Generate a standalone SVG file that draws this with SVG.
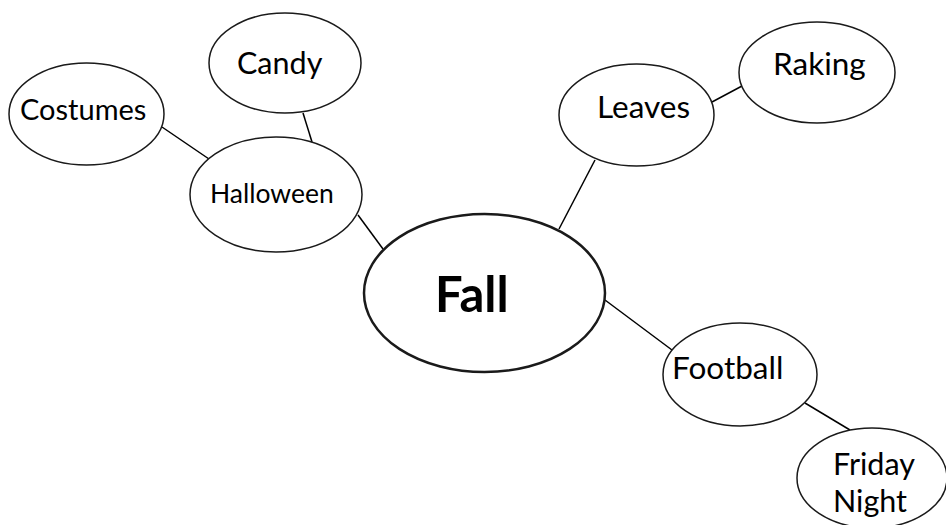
<svg xmlns="http://www.w3.org/2000/svg" width="946" height="525" viewBox="0 0 946 525">
<style>
.n{fill:#fff;stroke:#1a1a1a;stroke-width:1.5}
.t{font-family:Lato,"Liberation Sans",sans-serif;font-size:31px;fill:#000}
.c line{stroke:#000;stroke-width:1.5}
</style>
<rect width="946" height="525" fill="#fff"/>
<g class="c" id="connectors">
<line x1="162" y1="127" x2="209" y2="159"/>
<line x1="303" y1="113" x2="312" y2="142"/>
<line x1="358" y1="215" x2="383" y2="249"/>
<line x1="595" y1="160" x2="559" y2="229"/>
<line x1="712" y1="102" x2="742" y2="86"/>
<line x1="605" y1="300" x2="672" y2="350"/>
<line x1="805" y1="403" x2="850" y2="430"/>
</g>
<g id="fall"><ellipse class="n" cx="484.5" cy="293" rx="120.5" ry="79" style="stroke-width:2.5"/><text x="435" y="312" class="t" style="font-size:49px;font-weight:bold">Fall</text></g>
<g id="halloween"><ellipse class="n" cx="276" cy="194.5" rx="86" ry="57.5"/><text x="210" y="203" class="t" style="font-size:26.5px">Halloween</text></g>
<g id="costumes"><ellipse class="n" cx="86.5" cy="114" rx="77.5" ry="51"/><text x="20" y="120" class="t" style="font-size:29px">Costumes</text></g>
<g id="candy"><ellipse class="n" cx="285" cy="63" rx="76" ry="50"/><text x="237" y="74" class="t" style="font-size:30.5px">Candy</text></g>
<g id="leaves"><ellipse class="n" cx="636.5" cy="115" rx="77.5" ry="51"/><text x="597" y="118" class="t" style="font-size:31.5px">Leaves</text></g>
<g id="raking"><ellipse class="n" cx="817" cy="72.5" rx="78" ry="50.5"/><text x="773" y="75" class="t" style="font-size:31.5px">Raking</text></g>
<g id="football"><ellipse class="n" cx="740" cy="374.5" rx="77" ry="51.5"/><text x="672" y="379" class="t" style="font-size:31.5px">Football</text></g>
<g id="friday-night"><ellipse class="n" cx="872" cy="478" rx="75" ry="50"/><text x="833" y="475" class="t" style="font-size:30.5px">Friday</text><text x="833" y="512" class="t" style="font-size:30.5px">Night</text></g>
</svg>
